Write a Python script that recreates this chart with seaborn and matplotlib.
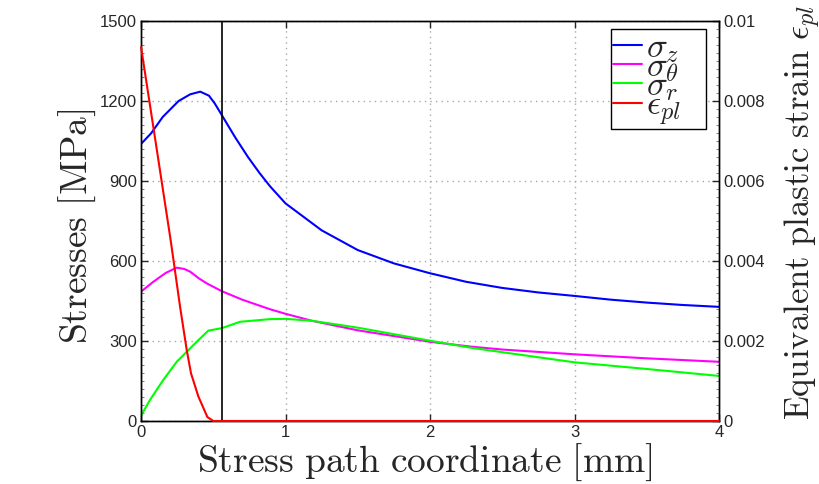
import numpy as np
import pandas as pd
import matplotlib
matplotlib.use('Agg')
import matplotlib.pyplot as plt
from matplotlib.ticker import AutoMinorLocator
import seaborn as sns

## data
x_z = [0, 0.07, 0.15, 0.26, 0.34, 0.41, 0.47, 0.51, 0.558, 0.65, 0.74, 0.82, 0.893, 1.0,
       1.25, 1.5, 1.75, 2.0, 2.25, 2.5, 2.75, 3.0, 3.25, 3.5, 3.75, 4.0]
sigma_z = [1039, 1079, 1140, 1200, 1225, 1235, 1220, 1191, 1148, 1065, 990, 930, 880, 816,
           715, 641, 591, 554, 522, 499, 482, 469, 455, 444, 435, 428]

x_t = [0, 0.085, 0.17, 0.247, 0.3, 0.34, 0.4, 0.455, 0.558, 0.7, 0.893, 1.0, 1.18,
       1.5, 2.0, 2.28, 2.5, 3.0, 3.5, 4.0]
sigma_theta = [485, 522, 555, 575, 570, 560, 535, 516, 487, 455, 419, 402, 376,
               340, 297, 279, 268, 250, 235, 222]

x_r = [0, 0.062, 0.154, 0.247, 0.385, 0.466, 0.558, 0.685, 0.893, 1.0, 1.18, 1.5,
       2.0, 2.28, 2.5, 3.0, 3.5, 4.0]
sigma_r = [20, 79, 154, 222, 297, 339, 348, 372, 382, 383, 376, 350,
           301, 275, 258, 220, 195, 169]

x_pl = [0, 0.1, 0.205, 0.231, 0.27, 0.316, 0.346, 0.397, 0.459, 0.5, 4.0]
eps_pl = [0.00935, 0.0070, 0.00452, 0.00386, 0.00286, 0.00178, 0.00119, 0.00061,
          0.0001, 0, 0]

x_cut = 0.558  # vertical marker

x_ticks = [0, 1, 2, 3, 4]
y_ticks = [0, 300, 600, 900, 1200, 1500]
y2_ticks = [0, 0.002, 0.004, 0.006, 0.008, 0.01]
y2_labels = ['0', '0.002', '0.004', '0.006', '0.008', '0.01']

sns.set_style('ticks')
plt.rcParams['font.family'] = ['Liberation Sans', 'DejaVu Sans']
plt.rcParams['mathtext.fontset'] = 'cm'

fig = plt.figure(figsize=(8.19, 4.84), dpi=100)
ax = fig.add_axes([0.1722, 0.1302, 0.7057, 0.8264])
ax2 = ax.twinx()

sns.lineplot(x=x_z, y=sigma_z, ax=ax, color='#0000ff', lw=1.5, label=r'$\sigma_z$', legend=False)
sns.lineplot(x=x_t, y=sigma_theta, ax=ax, color='#ff00ff', lw=1.5, label=r'$\sigma_\theta$', legend=False)
sns.lineplot(x=x_r, y=sigma_r, ax=ax, color='#00ff00', lw=1.5, label=r'$\sigma_r$', legend=False)
ax.axvline(x_cut, color='black', lw=1.2)
sns.lineplot(x=x_pl, y=eps_pl, ax=ax2, color='#ff0000', lw=1.5, label=r'$\epsilon_{pl}$',
             legend=False, clip_on=False, zorder=5)

ax.set_xlim(0, 4)
ax.set_ylim(0, 1500)
ax2.set_ylim(0, 0.01)
ax.set_xticks(x_ticks)
ax.set_yticks(y_ticks)
ax2.set_yticks(y2_ticks)
ax2.set_yticklabels(y2_labels)
ax.yaxis.set_minor_locator(AutoMinorLocator(10))
ax2.yaxis.set_minor_locator(AutoMinorLocator(10))

ax.grid(True, which='major', ls=(0, (1, 3)), color='#a8a8a8', lw=1.0)
for a in (ax, ax2):
    a.tick_params(which='major', direction='in', length=5, width=1, labelsize=12, pad=3)
    a.tick_params(which='minor', direction='in', length=2, width=0.6, color='#666666')
    for s in a.spines.values():
        s.set_linewidth(1.0)
        s.set_color('black')
ax.tick_params(axis='x', top=True)

ax.set_xlabel(r'$\mathrm{Stress\ path\ coordinate\ [mm]}$', fontsize=27)
ax.set_ylabel(r'$\mathrm{Stresses\ [MPa]}$', fontsize=27)
ax2.set_ylabel(r'$\mathrm{Equivalent\ plastic\ strain}\ \epsilon_{pl}$', fontsize=25)
ax.xaxis.set_label_coords(0.491, -0.052)
ax.yaxis.set_label_coords(-0.075, 0.486)
ax2.yaxis.set_label_coords(1.11, 0.52)

# expand mode stretches the box to the Matlab legend width
h1, l1 = ax.get_legend_handles_labels()
h2, l2 = ax2.get_legend_handles_labels()
leg = ax2.legend(h1 + h2, l1 + l2, loc='upper left', bbox_to_anchor=(0.813, 0.98, 0.164, 0.0),
                 mode='expand', borderaxespad=0, fontsize=25, handlelength=0.85,
                 labelspacing=-0.42, borderpad=0.05, handletextpad=0.12, fancybox=False,
                 framealpha=1, edgecolor='black')
leg.get_frame().set_linewidth(1.0)

fig.savefig('out.png', dpi=100)
